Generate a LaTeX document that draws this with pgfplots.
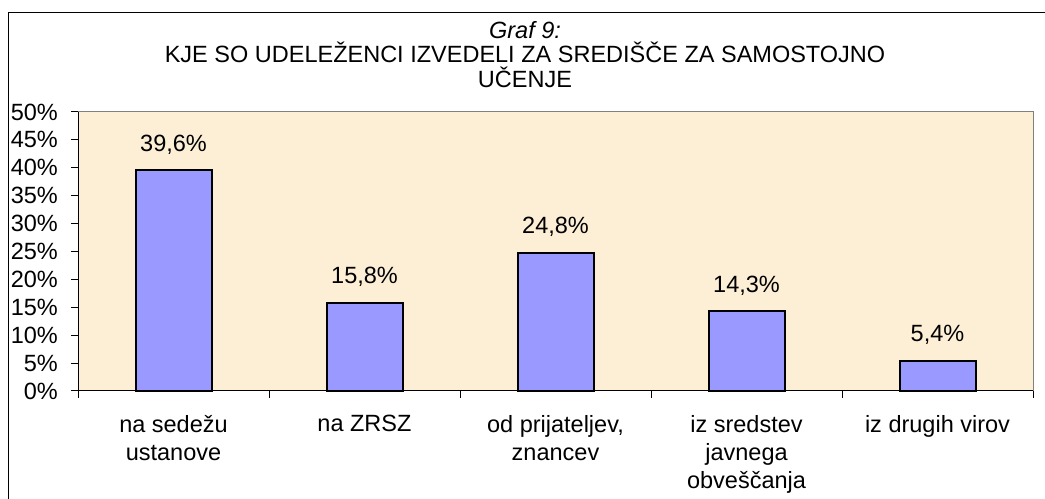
\documentclass[border=0pt]{standalone}
\usepackage{pgfplots}
\pgfplotsset{compat=1.18}
\usepackage{fontspec}
\setmainfont{Liberation Sans}
\definecolor{bg}{RGB}{252,239,214}
\definecolor{barc}{RGB}{153,153,255}
\newcommand{\chartfont}{\fontsize{23.5bp}{28bp}\selectfont}
\begin{document}
\begin{tikzpicture}[x=1bp,y=1bp]
\useasboundingbox (0,0) rectangle (1045,499);
\draw[line width=1bp] (8.5,-5) -- (8.5,486.5) -- (1050,486.5);
\node[anchor=base,font=\chartfont\itshape] at (525,460) {Graf 9:};
\node[anchor=base,font=\chartfont] at (525,436) {KJE SO UDELEŽENCI IZVEDELI ZA SREDIŠČE ZA SAMOSTOJNO};
\node[anchor=base,font=\chartfont] at (525,411) {UČENJE};
\begin{axis}[
  scale only axis, width=955bp, height=279bp,
  at={(78bp,108bp)}, anchor=south west,
  xmin=-0.5, xmax=4.5, ymin=0, ymax=50,
  axis lines*=left,
  axis line style={-, black, line width=1bp},
  axis background/.style={fill=bg, draw=gray, line width=1bp},
  ybar, bar width=76bp,
  tick align=outside,
  major tick length=7bp, minor tick length=7bp,
  xtick={0,1,2,3,4},
  xticklabels={{na sedežu\\ustanove},{na ZRSZ},{od prijateljev,\\znancev},{iz sredstev\\javnega\\obveščanja},{iz drugih virov}},
  minor xtick={-0.5,0.5,1.5,2.5,3.5,4.5},
  major x tick style={draw=none},
  minor x tick style={draw=black, line width=1bp},
  ytick={0,5,...,50},
  y tick style={draw=black, line width=1bp},
  /pgf/number format/assume math mode=true,
  yticklabel={\pgfmathprintnumber{\tick}\%},
  xticklabel style={font=\chartfont, align=center, anchor=north, inner sep=0pt},
  xticklabel shift=17bp,
  yticklabel style={font=\chartfont, anchor=east, inner sep=0pt},
  yticklabel shift=13bp,
  nodes near coords={\pgfmathprintnumber[fixed,fixed zerofill,precision=1,use comma]{\pgfplotspointmeta}\%},
  every node near coord/.append style={font=\chartfont, anchor=base, inner sep=0pt, yshift=19bp, black},
  clip=false,
]
\addplot[fill=barc, draw=black, line width=2bp] coordinates {(0,39.6) (1,15.8) (2,24.8) (3,14.3) (4,5.4)};
\end{axis}
\end{tikzpicture}
\end{document}
